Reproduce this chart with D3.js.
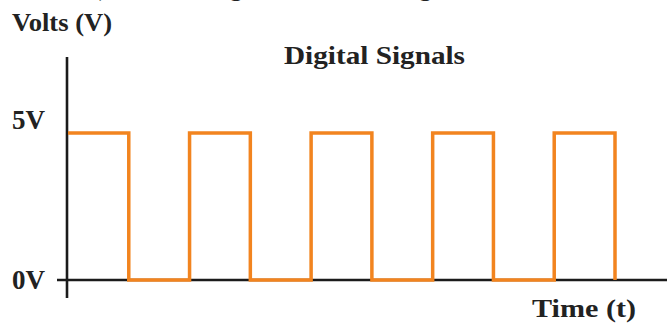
<!DOCTYPE html>
<html>
<head>
<meta charset="utf-8">
<script src="https://cdn.jsdelivr.net/npm/d3@7"></script>
<style>
  html, body { margin: 0; padding: 0; background: #fff; }
  svg { display: block; }
  text { font-family: "Times New Roman", "Liberation Serif", Times, serif; fill: #222; }
</style>
</head>
<body>
<svg id="chart" width="667" height="324"></svg>
<script>
// Square wave: time in half-periods, voltage level at each step
const times = [0, 1, 2, 3, 4, 5, 6, 7, 8, 9];
const volts = [5, 0, 5, 0, 5, 0, 5, 0, 5, 0];
const voltTicks = [0, 5];
const voltTickLabels = ["0V", "5V"];

const serif = "'Times New Roman', 'Liberation Serif', Times, serif";
const svg = d3.select("#chart");

const x = d3.scaleLinear().domain([0, 9]).range([68, 615]);
const y = d3.scaleLinear().domain([0, 5]).range([280, 133]);

// Running text from the surrounding page, cut off at the top edge
svg.append("text")
  .attr("x", 0).attr("y", -5)
  .attr("font-size", 28)
  .attr("textLength", 600)
  .attr("lengthAdjust", "spacingAndGlyphs")
  .style("font-family", serif)
  .text("is 0 volts), while a high is 5V, and a digital 1 is 5 volts.");

// Axis lines
svg.append("line")
  .attr("x1", 67).attr("x2", 67)
  .attr("y1", 57).attr("y2", 298)
  .attr("stroke", "#1b1b1b").attr("stroke-width", 2.6);

svg.append("line")
  .attr("x1", 57).attr("x2", 667)
  .attr("y1", y(0)).attr("y2", y(0))
  .attr("stroke", "#1b1b1b").attr("stroke-width", 2.6);

// Voltage tick labels
const yAxis = d3.axisLeft(y)
  .tickValues(voltTicks)
  .tickFormat((d, i) => voltTickLabels[i])
  .tickSize(0)
  .tickPadding(22);

const gy = svg.append("g").attr("transform", "translate(67,0)").call(yAxis);
gy.select(".domain").remove();
gy.selectAll("text")
  .attr("font-size", 27)
  .attr("font-weight", "bold")
  .attr("fill", "#222")
  .style("font-family", serif)
  .attr("dy", (d) => d === 5 ? "-0.15em" : "0.32em");

// Signal
const line = d3.line()
  .x((d, i) => x(times[i]))
  .y((d) => y(d))
  .curve(d3.curveStepAfter);

svg.append("path")
  .datum(volts)
  .attr("d", line)
  .attr("fill", "none")
  .attr("stroke", "#f2841f")
  .attr("stroke-width", 3.5)
  .attr("stroke-linejoin", "miter");

// Titles
svg.append("text")
  .attr("x", 12).attr("y", 31)
  .attr("font-size", 25).attr("font-weight", "bold")
  .style("font-family", serif)
  .attr("textLength", 100).attr("lengthAdjust", "spacingAndGlyphs")
  .text("Volts (V)");

svg.append("text")
  .attr("x", 284).attr("y", 64)
  .attr("font-size", 25).attr("font-weight", "bold")
  .style("font-family", serif)
  .attr("textLength", 181).attr("lengthAdjust", "spacingAndGlyphs")
  .text("Digital Signals");

svg.append("text")
  .attr("x", 532).attr("y", 317)
  .attr("font-size", 26).attr("font-weight", "bold")
  .style("font-family", serif)
  .attr("textLength", 104).attr("lengthAdjust", "spacingAndGlyphs")
  .text("Time (t)");
</script>
</body>
</html>
